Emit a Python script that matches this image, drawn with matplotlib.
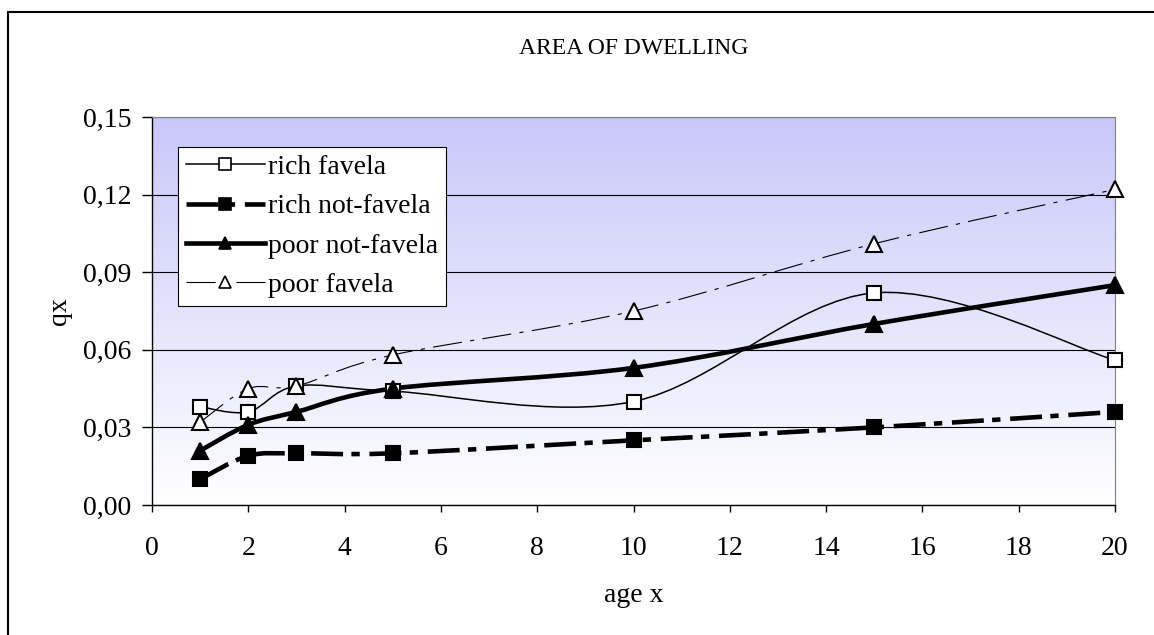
import numpy as np
import matplotlib
matplotlib.use("Agg")
import matplotlib.pyplot as plt
from matplotlib.path import Path
from matplotlib.patches import PathPatch, Rectangle
from matplotlib.lines import Line2D
from matplotlib.ticker import FuncFormatter, MultipleLocator

plt.rcParams["font.family"] = ["Liberation Serif", "DejaVu Serif"]
plt.rcParams["lines.scale_dashes"] = False

ages = [1, 2, 3, 5, 10, 15, 20]
rich_favela = [0.038, 0.036, 0.046, 0.044, 0.040, 0.082, 0.056]
rich_not_favela = [0.010, 0.019, 0.020, 0.020, 0.025, 0.030, 0.036]
poor_not_favela = [0.021, 0.031, 0.036, 0.045, 0.053, 0.070, 0.085]
poor_favela = [0.032, 0.045, 0.046, 0.058, 0.075, 0.101, 0.122]


def smooth_path(x, y):
    # spreadsheet-style smoothed line: cubic Bezier through every point
    pts = np.column_stack([x, y]).astype(float)
    n = len(pts)
    verts = [pts[0]]
    codes = [Path.MOVETO]
    for i in range(n - 1):
        p_prev = pts[max(i - 1, 0)]
        p0 = pts[i]
        p1 = pts[i + 1]
        p_next = pts[min(i + 2, n - 1)]
        c1 = p0 + (p1 - p_prev) / 6.0
        c2 = p1 - (p_next - p0) / 6.0
        verts += [c1, c2, p1]
        codes += [Path.CURVE4] * 3
    return Path(verts, codes)


series = [
    ("rich favela", rich_favela, dict(lw=1.1, ls="-"), dict(marker="s", mfc="white", ms=10)),
    ("rich not-favela", rich_not_favela, dict(lw=3.3, ls=(0, (23, 6, 6, 7))), dict(marker="s", mfc="black", ms=10.5)),
    ("poor not-favela", poor_not_favela, dict(lw=3.3, ls="-"), dict(marker="^", mfc="black", ms=11)),
    ("poor favela", poor_favela, dict(lw=0.8, ls=(0, (21, 6, 3, 6))), dict(marker="^", mfc="white", ms=11)),
]

fig = plt.figure(figsize=(11.54, 6.35), dpi=100)
ax = fig.add_axes([152 / 1154, 1 - 505 / 635, 963 / 1154, 388 / 635])

# outer chart frame (runs off the right and bottom edges)
fig.patches.append(Rectangle((8 / 1154, -0.1), 1.2, 1.1 - 12 / 635, transform=fig.transFigure,
                             fill=False, edgecolor="black", lw=1.5, zorder=0))

# plot area gradient, lavender at the top fading to white
grad = np.linspace(1, 0, 256).reshape(-1, 1)
top = np.array([200, 200, 250]) / 255.0
bottom = np.array([255, 255, 255]) / 255.0
img = bottom + grad[..., None] * (top - bottom)
ax.imshow(img, extent=[0, 20, 0, 0.15], aspect="auto", origin="upper", zorder=0)

ax.set_xlim(0, 20)
ax.set_ylim(0, 0.15)
ax.xaxis.set_major_locator(MultipleLocator(2))
ax.yaxis.set_major_locator(MultipleLocator(0.03))
ax.yaxis.set_major_formatter(FuncFormatter(lambda v, p: f"{v:.2f}".replace(".", ",")))
ax.grid(axis="y", color="black", lw=0.8, zorder=1)
ax.set_axisbelow(True)

for name, vals, lstyle, mstyle in series:
    patch = PathPatch(smooth_path(ages, vals), fill=False, edgecolor="black",
                      lw=lstyle["lw"], linestyle=lstyle["ls"], zorder=3, capstyle="butt")
    ax.add_patch(patch)
    ax.plot(ages, vals, linestyle="none", marker=mstyle["marker"], ms=mstyle["ms"],
            mfc=mstyle["mfc"], mec="black", mew=1.5, zorder=4, clip_on=False)

handles = [
    Line2D([], [], color="black", lw=lstyle["lw"], linestyle=lstyle["ls"],
           marker=mstyle["marker"], ms=mstyle["ms"] * 0.85, mfc=mstyle["mfc"], mec="black", mew=1.2)
    for name, vals, lstyle, mstyle in series
]
leg = ax.legend(handles, [s[0] for s in series], loc="upper left",
                bbox_to_anchor=(0.027, 0.923), borderaxespad=0, fontsize=20,
                handlelength=2.85, handletextpad=0.12, labelspacing=0.5,
                frameon=True, fancybox=False, edgecolor="black", framealpha=1,
                borderpad=0.28)
leg.get_frame().set_linewidth(0.8)

for side in ["top", "right"]:
    ax.spines[side].set_color("#808080")
    ax.spines[side].set_linewidth(0.8)
for side in ["left", "bottom"]:
    ax.spines[side].set_color("black")
    ax.spines[side].set_linewidth(1.0)

ax.tick_params(axis="both", direction="out", width=1, labelsize=20, colors="black")
ax.tick_params(axis="x", length=5, pad=17)
ax.tick_params(axis="y", length=7, pad=8)

ax.set_xlabel("age x", fontsize=20, labelpad=16)
ax.set_ylabel("qx", fontsize=20, labelpad=7.5)
fig.text(634 / 1154, 1 - 49 / 635, "AREA OF DWELLING", ha="center", va="center", fontsize=17)

fig.savefig("out.png", dpi=100)
